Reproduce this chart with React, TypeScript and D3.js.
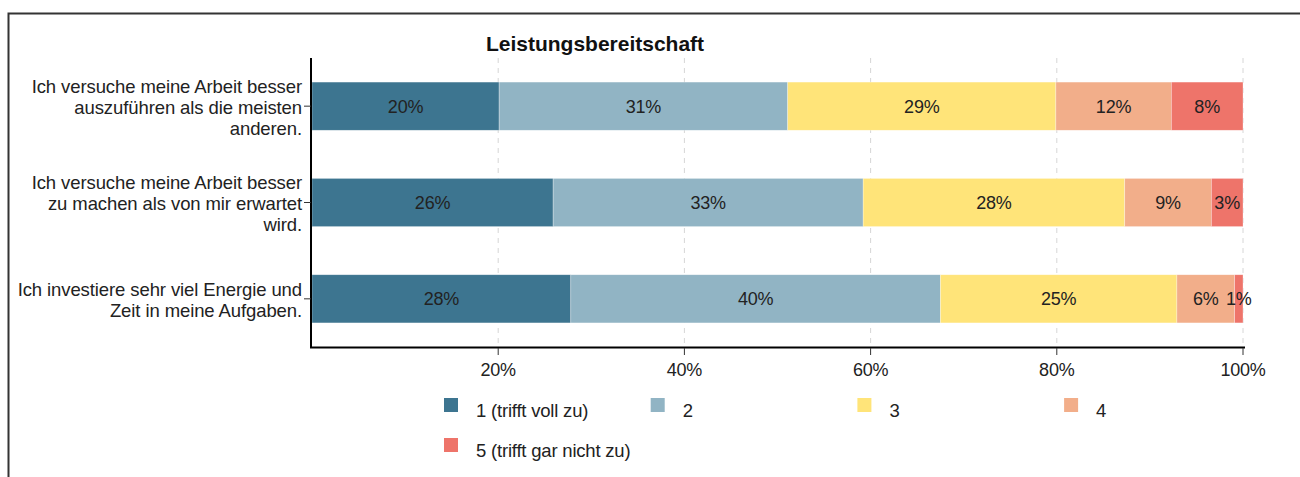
import React from "react"
import * as d3 from "d3"

const title = "Leistungsbereitschaft"

const items = [
  ["Ich versuche meine Arbeit besser", "auszuführen als die meisten", "anderen."],
  ["Ich versuche meine Arbeit besser", "zu machen als von mir erwartet", "wird."],
  ["Ich investiere sehr viel Energie und", "Zeit in meine Aufgaben."],
]

const levels = ["1 (trifft voll zu)", "2", "3", "4", "5 (trifft gar nicht zu)"]
const colors = ["#3d7590", "#91b4c4", "#ffe479", "#f2ae8a", "#ee746a"]

// share per answer level, one array per statement
const row1 = [20.1, 31.0, 28.8, 12.4, 7.7]
const row2 = [25.9, 33.3, 28.1, 9.3, 3.4]
const row3 = [27.8, 39.7, 25.4, 6.2, 0.9]
const rows = [row1, row2, row3]

const ticks = [0.2, 0.4, 0.6, 0.8, 1]

const W = 1300
const H = 477
const font = "'Liberation Sans', Arial, sans-serif"

const App = () => {
  const x = d3.scaleLinear().domain([0, 1]).range([312, 1243])
  const y = d3
    .scaleBand()
    .domain(items.map((d, i) => String(i)))
    .range([58, 347])
    .paddingInner(0.5)
    .paddingOuter(0.25)

  const tableData = rows.map((r, i) => {
    const o: any = { key: String(i) }
    levels.forEach((l, j) => (o[l] = r[j] / 100))
    return o
  })
  const series = d3.stack().keys(levels)(tableData)
  const fmt = (v: number) => `${Math.round(v * 100)}%`

  return (
    <svg
      width={W}
      height={H}
      style={{ position: "absolute", left: 0, top: 0, display: "block", fontFamily: font }}
    >
      <rect x={0} y={0} width={W} height={H} fill="#fff" />
      <rect x={8.5} y={13.5} width={1400} height={600} fill="none" stroke="#333" strokeWidth={2} />

      <text x={595} y={51} textAnchor="middle" fontWeight="bold" fontSize={21} fill="#111">
        {title}
      </text>

      {ticks.map((t) => (
        <line
          key={t}
          x1={x(t)}
          x2={x(t)}
          y1={58}
          y2={347}
          stroke="#d6d6d6"
          strokeDasharray="5,5"
        />
      ))}

      {series.map((s, j) =>
        s.map((d: any) => {
          const yy = y(d.data.key) as number
          const x0 = x(d[0])
          const x1 = x(d[1])
          return (
            <rect
              key={`${j}-${d.data.key}`}
              x={x0}
              y={yy}
              width={x1 - x0}
              height={y.bandwidth()}
              fill={colors[j]}
              stroke="#fff"
              strokeOpacity={0.5}
              strokeWidth={0.6}
            />
          )
        })
      )}
      {series.map((s, j) =>
        s.map((d: any) => {
          const yy = y(d.data.key) as number
          return (
            <text
              key={`t${j}-${d.data.key}`}
              x={(x(d[0]) + x(d[1])) / 2}
              y={yy + y.bandwidth() / 2 + 6.5}
              textAnchor="middle"
              fontSize={18}
              fill="#222"
              letterSpacing={-0.2}
            >
              {fmt(d[1] - d[0])}
            </text>
          )
        })
      )}

      {/* axes */}
      <line x1={311} x2={311} y1={58} y2={348} stroke="#000" strokeWidth={2} />
      <line x1={310} x2={1245} y1={347.5} y2={347.5} stroke="#000" strokeWidth={2} />
      {ticks.map((t) => (
        <g key={`xt${t}`}>
          <line x1={x(t)} x2={x(t)} y1={348} y2={355} stroke="#333" strokeWidth={1} />
          <text x={x(t)} y={376} textAnchor="middle" fontSize={18} fill="#222" letterSpacing={-0.2}>
            {fmt(t)}
          </text>
        </g>
      ))}

      {items.map((lines, i) => {
        const cy = (y(String(i)) as number) + y.bandwidth() / 2
        const lh = 21
        const top = cy - ((lines.length - 1) * lh) / 2
        return (
          <g key={`yl${i}`}>
            <line x1={304} x2={311} y1={cy} y2={cy} stroke="#333" strokeWidth={1} />
            {lines.map((l, k) => (
              <text
                key={k}
                x={302}
                y={top + k * lh + 7.5}
                textAnchor="end"
                fontSize={18.5}
                fill="#222"
                letterSpacing={-0.1}
              >
                {l}
              </text>
            ))}
          </g>
        )
      })}

      {/* legend */}
      {levels.map((l, j) => {
        const col = j % 4
        const row = Math.floor(j / 4)
        const lx = 444 + col * 206.7
        const ly = 398 + row * 40
        return (
          <g key={`lg${j}`}>
            <rect x={lx} y={ly} width={14} height={14} fill={colors[j]} />
            <text x={lx + 32} y={ly + 19} fontSize={18.5} fill="#222" letterSpacing={-0.2}>
              {l}
            </text>
          </g>
        )
      })}
    </svg>
  )
}

export default App
